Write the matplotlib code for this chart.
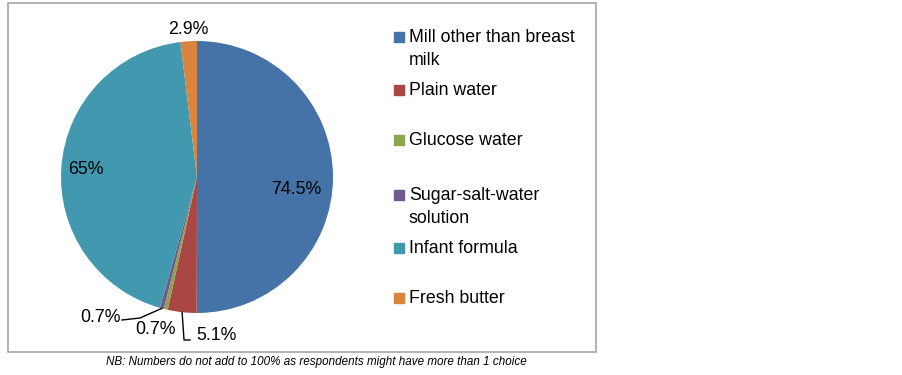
import numpy as np
import matplotlib.pyplot as plt
from matplotlib.patches import Rectangle

plt.rcParams['font.family'] = ['Liberation Sans', 'DejaVu Sans']

# dados do grafico
categorias = ['Mill other than breast\nmilk', 'Plain water', 'Glucose water',
              'Sugar-salt-water\nsolution', 'Infant formula', 'Fresh butter']
valores = [74.5, 5.1, 0.7, 0.7, 65, 2.9]
rotulos = ['74.5%', '5.1%', '0.7%', '0.7%', '65%', '2.9%']
cores = ['#4572A7', '#AA4643', '#89A54E', '#71588F', '#4198AF', '#DB843D']

W, H = 903, 375
fig = plt.figure(figsize=(W / 100, H / 100), dpi=100)

# moldura cinza
fig.patches.append(Rectangle((8 / W, (H - 352) / H), 588 / W, 349 / H,
                             transform=fig.transFigure, fill=False,
                             edgecolor='#A6A6A6', linewidth=1.2))

# pizza: centro (197,177) px, raio 136 px
cx, cy, r = 197, 177, 136
ax = fig.add_axes([(cx - r) / W, (H - cy - r) / H, 2 * r / W, 2 * r / H])
wedges, _ = ax.pie(valores, colors=cores, startangle=90, counterclock=False,
                   radius=1, wedgeprops=dict(linewidth=0))
ax.set_xlim(-1, 1)
ax.set_ylim(-1, 1)
ax.set_aspect('auto')
ax.axis('off')


def px(x, y):
    return ((x - cx) / r, (cy - y) / r)


def borda(w, raio=1.0):
    a = np.deg2rad((w.theta1 + w.theta2) / 2)
    return raio * np.cos(a), raio * np.sin(a)


fs = 12.8
# rotulos dentro / perto das fatias
ax.text(*px(296, 190), rotulos[0], ha='center', va='center', fontsize=fs)
ax.text(*px(86, 170), rotulos[4], ha='center', va='center', fontsize=fs)
ax.text(*px(188, 30), rotulos[5], ha='center', va='center', fontsize=fs)

# linhas de chamada
lc = dict(color='black', lw=1.0, clip_on=False)
x0, y0 = borda(wedges[1])
xe, ye = px(184, 340)
ax.plot([x0, xe, px(190, 340)[0]], [y0, ye, ye], **lc)
ax.text(*px(196, 335), rotulos[1], ha='left', va='center', fontsize=fs)

ax.text(*px(156, 330), rotulos[2], ha='center', va='center', fontsize=fs)

x0, y0 = borda(wedges[3])
xe, ye = px(140, 318)
ax.plot([x0, xe, px(122, 320)[0]], [y0, ye, px(122, 320)[1]], **lc)
ax.text(*px(121, 317), rotulos[3], ha='right', va='center', fontsize=fs)

# legenda manual
ys = [37, 90, 140, 195, 248, 298]
for cat, cor, y in zip(categorias, cores, ys):
    fig.patches.append(Rectangle((394 / W, (H - y - 5) / H), 10 / W, 10 / H,
                                 transform=fig.transFigure, color=cor))
    fig.text(409 / W, (H - y + 8) / H, cat, ha='left', va='top',
             fontsize=fs, linespacing=1.48)

fig.text(316 / W, (H - 362) / H,
         'NB: Numbers do not add to 100% as respondents might have more than 1 choice',
         ha='center', va='center', fontsize=8.4, style='italic')

fig.savefig('out.png', dpi=100)
